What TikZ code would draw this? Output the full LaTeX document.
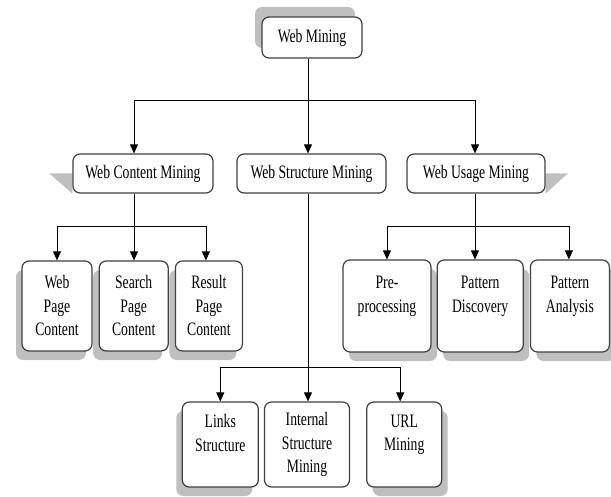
\documentclass[tikz,border=0pt]{standalone}
\usepackage{fontspec}
\setmainfont{Liberation Serif}[FakeStretch=0.72]
\usetikzlibrary{arrows.meta, positioning, shadows, backgrounds}

\begin{document}
\begin{tikzpicture}[
      x=1pt, y=-1pt,
      font=\fontsize{19}{23.5}\selectfont,
      box/.style={rectangle, draw=black!75, line width=1.2pt, rounded corners=7pt, fill=white, align=center, inner sep=0pt},
      root/.style={box, minimum width=100pt, minimum height=41pt},
      cat/.style={box, minimum height=39pt},
      leaf/.style={box, minimum height=90pt},
      sub/.style={box, minimum height=85pt},
      lsh/.style={drop shadow={shadow xshift=-6pt, shadow yshift=-9pt, fill=black!25, opacity=1}},
      rsh/.style={drop shadow={shadow xshift=6pt, shadow yshift=-9pt, fill=black!25, opacity=1}},
      line/.style={draw=black, line width=0.8pt},
      arrow/.style={line, -{Triangle[length=9pt, width=8pt]}}
    ]
    \useasboundingbox (0,0) rectangle (611,497);

    \node[root, drop shadow={shadow xshift=-7pt, shadow yshift=10pt, fill=black!25, opacity=1}] (wm) at (312,37.5) {Web Mining};

    \node[cat, minimum width=140pt] (wcm) at (143,173.5) {Web Content Mining};
    \node[cat, minimum width=149pt] (wsm) at (311.5,173.5) {Web Structure Mining};
    \node[cat, minimum width=138pt] (wum) at (476,173.5) {Web Usage Mining};

    % content mining
    \node[leaf, lsh, minimum width=70pt] (wpc) at (57,306) {Web\\Page\\Content};
    \node[leaf, lsh, minimum width=69pt, right=6pt of wpc] (spc) {Search\\Page\\Content};
    \node[leaf, lsh, minimum width=67pt, right=6pt of spc] (rpc) {Result\\Page\\Content};

    % usage mining
    \node[leaf, rsh, minimum width=88pt, minimum height=92pt] (pre) at (387,306) {Pre-\\processing\\\mbox{}};
    \node[leaf, rsh, minimum width=86pt, minimum height=92pt, right=5pt of pre] (pd) {Pattern\\Discovery\\\mbox{}};
    \node[leaf, rsh, minimum width=79pt, minimum height=92pt, right=6pt of pd] (pa) {Pattern\\Analysis\\\mbox{}};

    % structure mining
    \node[sub, minimum width=85pt] (ism) at (307,444.5) {Internal\\Structure\\Mining};
    \node[sub, lsh, minimum width=76pt, left=5pt of ism] (ls) {Links\\Structure\\\mbox{}};
    \node[sub, rsh, minimum width=75pt, right=16pt of ism] (url) {URL\\Mining\\\mbox{}};

    \begin{scope}[on background layer]
      \fill[black!25] ([xshift=-23pt]wcm.west) -- (wcm.west) -- (wcm.south west) -- cycle;
      \fill[black!25] (wum.east) -- ([xshift=22pt]wum.east) -- (wum.south east) -- cycle;
    \end{scope}

    \draw[line] ([xshift=-4pt]wm.south) -- ++(0,42) coordinate (j0);
    \draw[arrow] (j0) -| ([xshift=-9pt]wcm.north);
    \draw[arrow] (j0) -- (j0 |- wsm.north);
    \draw[arrow] (j0) -| ([xshift=-1pt]wum.north);

    \draw[line] ([xshift=-9pt]wcm.south) -- ++(0,33) coordinate (j1);
    \draw[arrow] (j1) -| (wpc.north);
    \draw[arrow] (j1) -- (j1 |- spc.north);
    \draw[arrow] (j1) -| ([xshift=-3pt]rpc.north);

    \draw[line] ([xshift=-1pt]wum.south) -- ++(0,33) coordinate (j2);
    \draw[arrow] (j2) -| (pre.north);
    \draw[arrow] (j2) -- (j2 |- pd.north);
    \draw[arrow] (j2) -| ([xshift=-1pt]pa.north);

    \draw[line] (j0 |- wsm.south) -- ++(0,174) coordinate (j3);
    \draw[arrow] (j3) -| (ls.north);
    \draw[arrow] (j3) -- (j3 |- ism.north);
    \draw[arrow] (j3) -| ([xshift=-4pt]url.north);
  \end{tikzpicture}
\end{document}
